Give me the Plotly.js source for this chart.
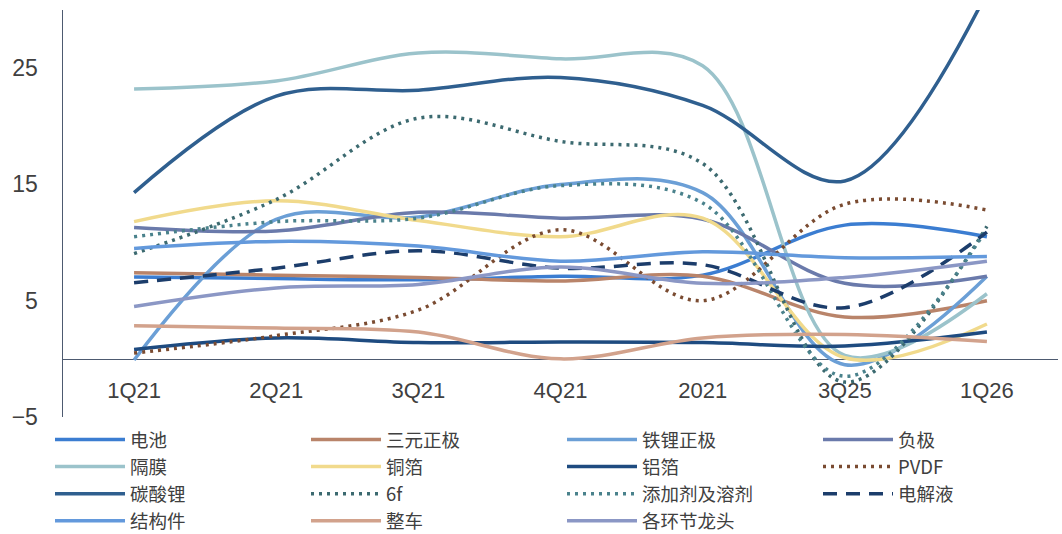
<!DOCTYPE html>
<html>
<head>
<meta charset="utf-8">
<script src="https://cdn.plot.ly/plotly-3.0.1.min.js"></script>
<style>
html,body{margin:0;padding:0;background:#fff;}
#chart{width:1062px;height:534px;}
</style>
</head>
<body>
<div id="chart"></div>
<script>
// ---- data ----
const categories = ['1Q21','2Q21','3Q21','4Q21','2021','3Q25','1Q26'];

const dianchi      = [7.05, 6.9, 6.8, 7.1, 7.2, 11.5, 10.5];   // 电池
const sanyuan      = [7.4, 7.2, 7.0, 6.7, 7.1, 3.6, 5.0];      // 三元正极
const tieli        = [-0.1, 12.0, 12.2, 15.0, 14.3, -0.5, 7.1];// 铁锂正极
const fuji         = [11.3, 11.0, 12.6, 12.1, 12.0, 6.5, 7.1]; // 负极
const gemo         = [23.2, 23.9, 26.3, 25.8, 25.2, 0.3, 5.6]; // 隔膜
const tongbo       = [11.8, 13.6, 11.9, 10.5, 12.1, 0.1, 3.0]; // 铜箔
const lvbo         = [0.8, 1.8, 1.4, 1.45, 1.4, 1.1, 2.3];     // 铝箔
const pvdf         = [0.5, 2.0, 4.2, 11.1, 5.0, 13.3, 12.8];   // PVDF
const tansuanli    = [14.3, 22.6, 23.1, 24.2, 21.8, 15.3, 31.5];// 碳酸锂
const liuf         = [9.05, 13.7, 20.7, 18.7, 16.8, -2.0, 11.4];// 6f
const tianjiaji    = [10.5, 11.8, 12.1, 14.9, 13.4, -1.5, 11.2];// 添加剂及溶剂
const dianjieye    = [6.55, 7.8, 9.3, 7.8, 8.1, 4.4, 10.9];    // 电解液
const jiegoujian   = [9.5, 10.1, 9.7, 8.4, 9.2, 8.7, 8.8];     // 结构件
const zhengche     = [2.85, 2.65, 2.3, 0.0, 1.8, 2.1, 1.5];    // 整车
const longtou      = [4.5, 6.1, 6.4, 7.9, 6.5, 7.0, 8.4];      // 各环节龙头

const yTickVals = [-5, 5, 15, 25];

// ---- series definitions (legend order, row by row) ----
const series = [
  {name:'电池',        y:dianchi,    color:'#3b7dd1', dash:'solid'},
  {name:'三元正极',    y:sanyuan,    color:'#b9846a', dash:'solid'},
  {name:'铁锂正极',    y:tieli,      color:'#6b9fd6', dash:'solid'},
  {name:'负极',        y:fuji,       color:'#6a7aab', dash:'solid'},
  {name:'隔膜',        y:gemo,       color:'#9bc3cb', dash:'solid'},
  {name:'铜箔',        y:tongbo,     color:'#f1da8c', dash:'solid'},
  {name:'铝箔',        y:lvbo,       color:'#1e4b80', dash:'solid'},
  {name:'PVDF',        y:pvdf,       color:'#7a4b31', dash:'3px,5px'},
  {name:'碳酸锂',      y:tansuanli,  color:'#2f5f8f', dash:'solid'},
  {name:'6f',          y:liuf,       color:'#3c6a70', dash:'3px,5px'},
  {name:'添加剂及溶剂',y:tianjiaji,  color:'#4a828c', dash:'3px,5px'},
  {name:'电解液',      y:dianjieye,  color:'#1c3d6b', dash:'14px,9px'},
  {name:'结构件',      y:jiegoujian, color:'#6399dc', dash:'solid'},
  {name:'整车',        y:zhengche,   color:'#d2a28c', dash:'solid'},
  {name:'各环节龙头',  y:longtou,    color:'#8b97c5', dash:'solid'}
];

const traces = series.map(s => ({
  type:'scatter', mode:'lines', name:s.name,
  x:categories, y:s.y,
  line:{color:s.color, width:3.5, dash:s.dash, shape:'spline', smoothing:1},
  hoverinfo:'skip'
}));

const tickFamily = '"Liberation Sans", "DejaVu Sans", sans-serif';

const layout = {
  width:1062, height:534,
  margin:{l:63, r:4, t:10, b:117, autoexpand:false},
  paper_bgcolor:'#ffffff', plot_bgcolor:'#ffffff',
  font:{family:tickFamily, color:'#404040'},
  showlegend:true,
  xaxis:{
    type:'category', range:[-0.5, 6.5],
    anchor:'free', position:5/35,
    showline:true, linecolor:'#4d5a70', linewidth:1.5,
    showgrid:false, zeroline:false, ticks:'',
    ticklabelstandoff:11,
    tickfont:{size:22, color:'#404040', family:tickFamily},
    layer:'below traces'
  },
  yaxis:{
    range:[-5, 30], tickvals:yTickVals,
    showline:true, linecolor:'#4d5a70', linewidth:1.5,
    showgrid:false, zeroline:false, ticks:'',
    ticklabelstandoff:19,
    tickfont:{size:23, color:'#404040', family:tickFamily}
  },
  legend:{
    orientation:'h', xref:'paper', yref:'paper',
    x:-13/995, xanchor:'left', y:-4/407, yanchor:'top',
    entrywidth:171, entrywidthmode:'pixels',
    itemwidth:70, traceorder:'normal',
    font:{size:18.5, color:'#404040', family:'"Noto Sans CJK SC", "Liberation Sans", sans-serif'},
    bgcolor:'rgba(0,0,0,0)', tracegroupgap:0
  }
};

Plotly.newPlot('chart', traces, layout, {displayModeBar:false, staticPlot:true});
</script>
</body>
</html>
